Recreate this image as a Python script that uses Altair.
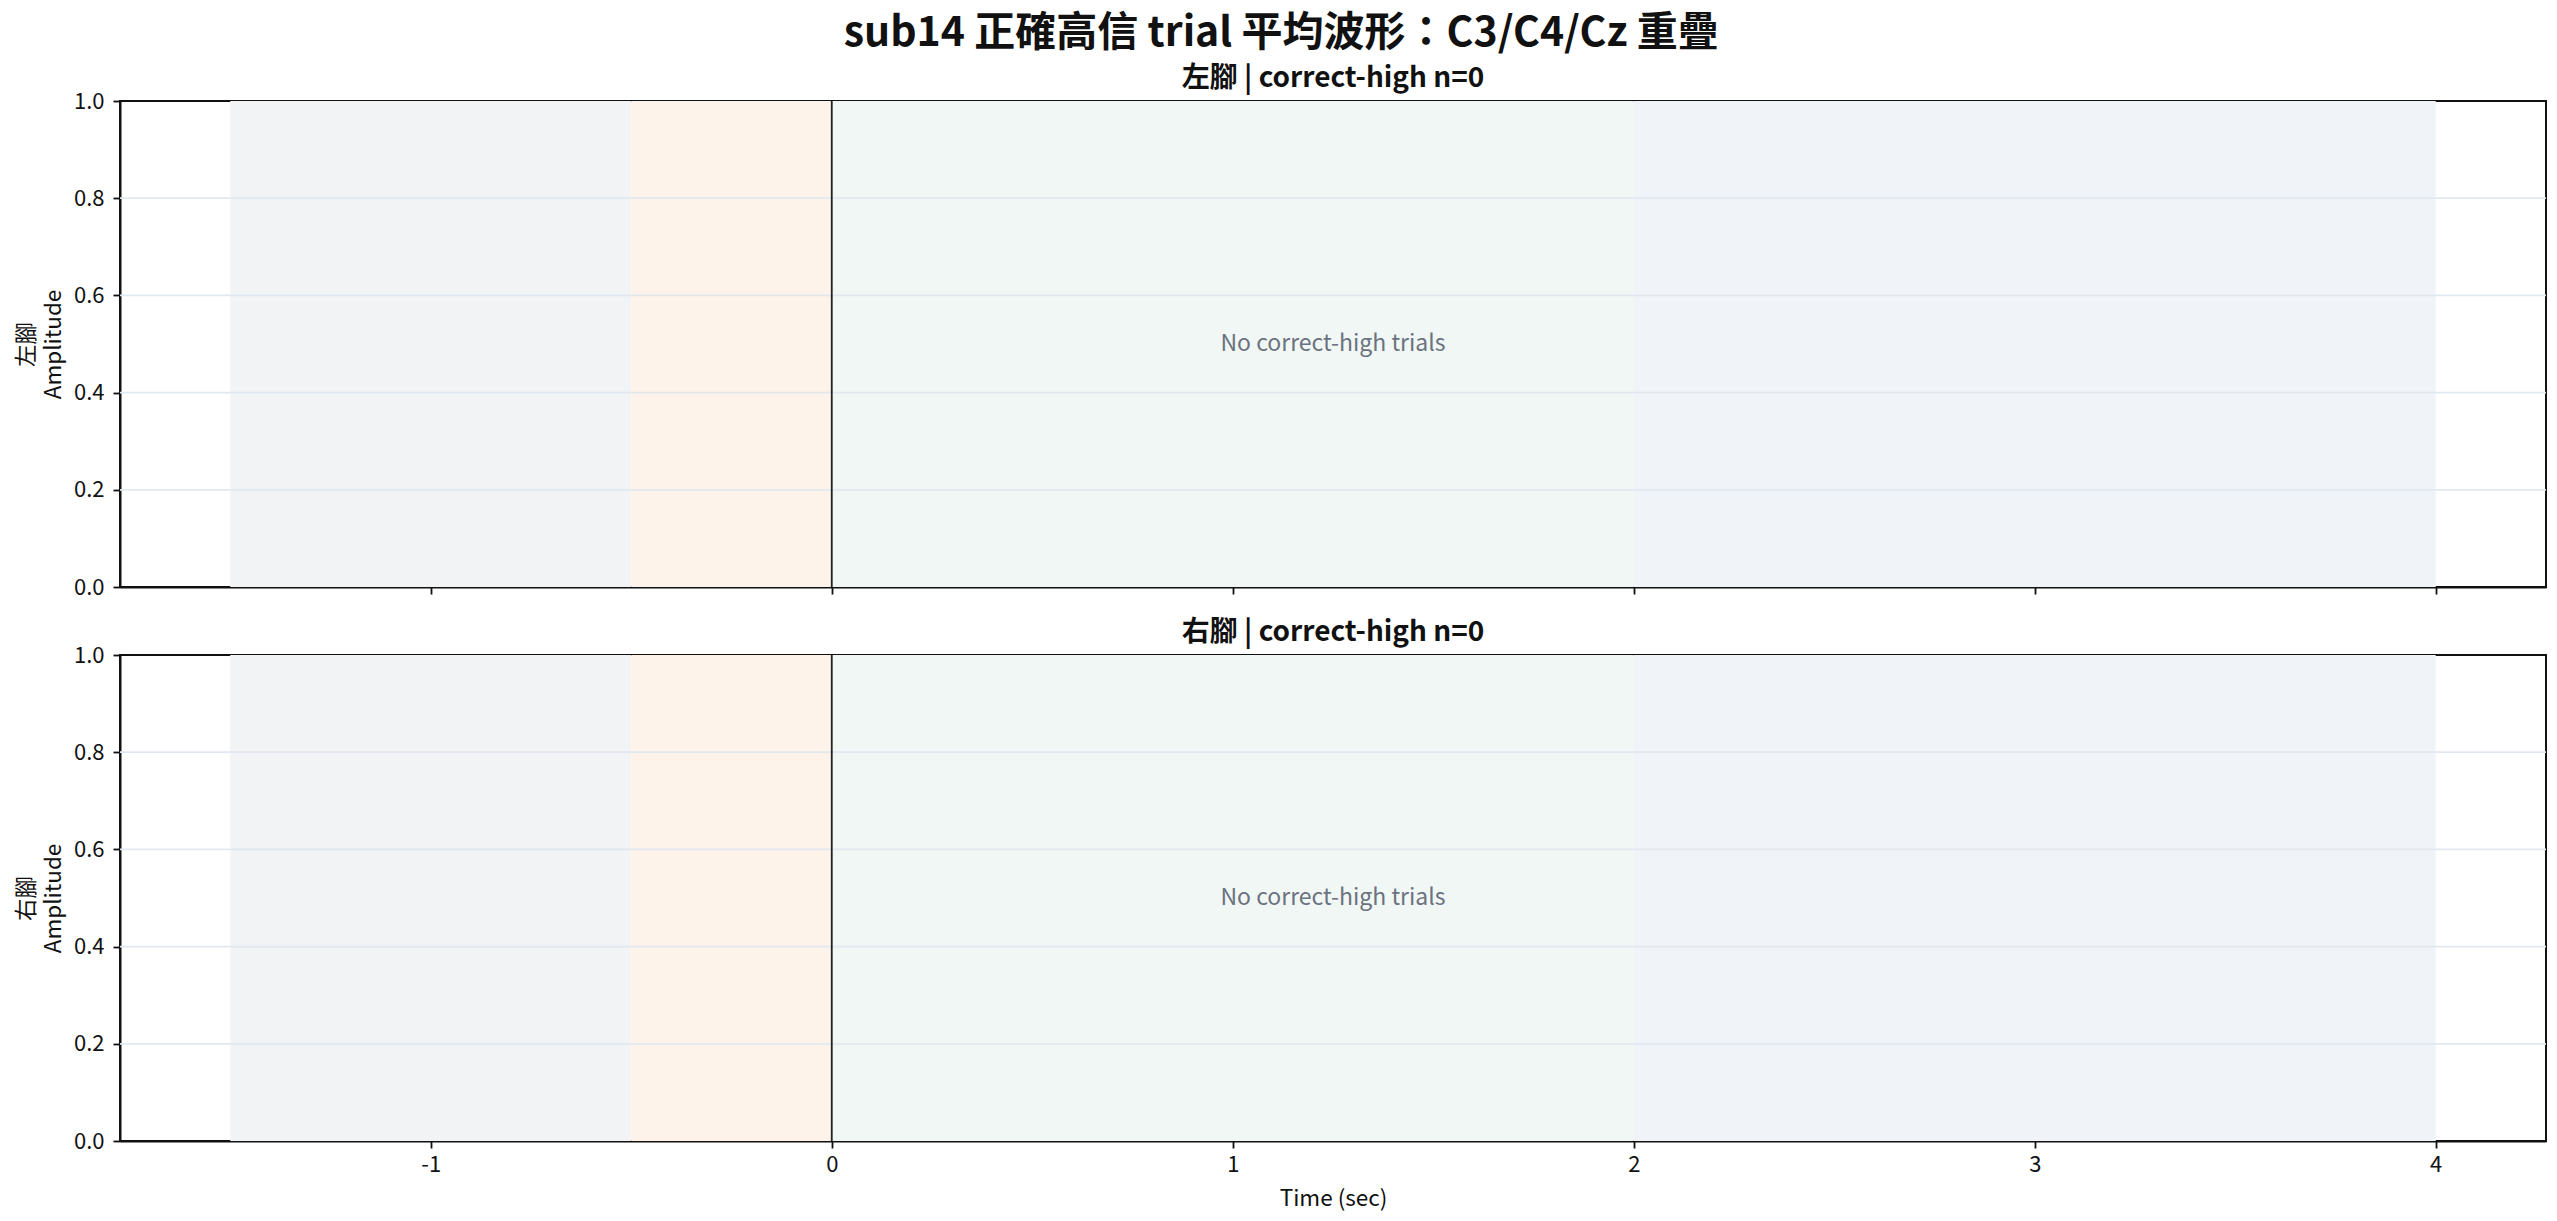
import altair as alt
import pandas as pd

# ---- data ----
suptitle = "sub14 正確高信 trial 平均波形：C3/C4/Cz 重疊"
panel_labels = ["左腳", "右腳"]
panel_counts = [0, 0]
condition = "correct-high"
empty_message = "No correct-high trials"

band_starts = [-1.5, -0.5, 0.0, 2.0]
band_ends = [-0.5, 0.0, 2.0, 4.0]
band_colors = ["#f1f3f5", "#fdf3eb", "#f1f7f4", "#f0f4f9"]

event_times = [0.0]
x_ticks = [-1, 0, 1, 2, 3, 4]
y_ticks = [0.0, 0.2, 0.4, 0.6, 0.8, 1.0]
grid_values = [0.2, 0.4, 0.6, 0.8]
x_domain = [-1.775, 4.275]
y_domain = [0.0, 1.0]

FONT = "Noto Sans CJK TC"
W, H = 2426, 486

bands_df = pd.DataFrame({
    "start": band_starts, "end": band_ends, "color": band_colors,
    "ylo": [y_domain[0]] * len(band_starts), "yhi": [y_domain[1]] * len(band_starts),
})
grid_df = pd.DataFrame({"g": grid_values})
event_df = pd.DataFrame({"t": event_times})
msg_df = pd.DataFrame({
    "x": [(x_domain[0] + x_domain[1]) / 2],
    "y": [(y_domain[0] + y_domain[1]) / 2],
    "msg": [empty_message],
})

xs = alt.Scale(domain=x_domain, nice=False, zero=False)
ys = alt.Scale(domain=y_domain, nice=False, zero=False)


def panel(label, n, bottom):
    xaxis = alt.Axis(values=x_ticks, labels=bottom, title="Time (sec)" if bottom else None,
                     grid=False, labelExpr="'' + datum.value", labelFlush=False,
                     labelPadding=6, titlePadding=12)
    yaxis = alt.Axis(values=y_ticks, format=".1f", title=[label, "Amplitude"], grid=False,
                     labelFlush=False, labelPadding=9, titlePadding=8, titleLineHeight=27)
    bands = alt.Chart(bands_df).mark_rect().encode(
        x=alt.X("start:Q", scale=xs, axis=xaxis),
        x2="end:Q",
        y=alt.Y("ylo:Q", scale=ys, axis=yaxis),
        y2="yhi:Q",
        color=alt.Color("color:N", scale=None, legend=None),
    )
    grid = alt.Chart(grid_df).mark_rule(color="#e2e8f0", strokeWidth=1.8).encode(
        y=alt.Y("g:Q", scale=ys)
    )
    rule = alt.Chart(event_df).mark_rule(color="#222222", strokeWidth=1.8).encode(
        x=alt.X("t:Q", scale=xs)
    )
    text = alt.Chart(msg_df).mark_text(font=FONT, fontSize=23, color="#6b7280").encode(
        x=alt.X("x:Q", scale=xs), y=alt.Y("y:Q", scale=ys), text="msg:N"
    )
    return alt.layer(bands, grid, rule, text).properties(
        width=W, height=H,
        title=alt.TitleParams(f"{label} | {condition} n={n}", font=FONT, fontSize=28,
                              fontWeight="bold", color="#111111", offset=-3),
    )


chart = alt.vconcat(
    panel(panel_labels[0], panel_counts[0], False),
    panel(panel_labels[1], panel_counts[1], True),
    spacing=19,
).properties(
    title=alt.TitleParams(suptitle, font=FONT, fontSize=41, fontWeight="bold",
                          color="#111111", anchor="middle", offset=9),
    padding={"left": 6, "top": 5, "right": 0, "bottom": 0},
).configure_view(
    stroke="#111111", strokeWidth=2
).configure_axis(
    domainColor="#111111", domainWidth=2, tickColor="#111111", tickWidth=1.8, tickSize=7,
    labelFont=FONT, labelFontSize=22, labelColor="#111111",
    titleFont=FONT, titleFontSize=22.5, titleFontWeight="normal", titleColor="#111111",
)

chart.save("out.html", embed_options={"renderer": "svg", "actions": False})
